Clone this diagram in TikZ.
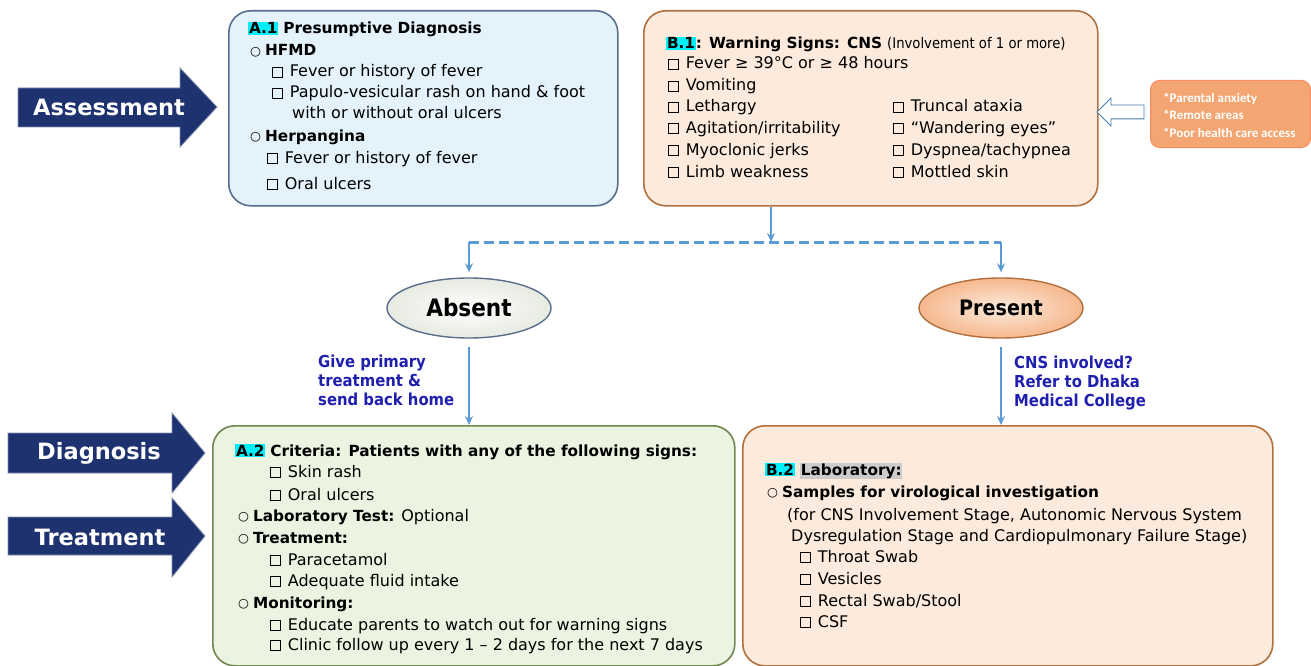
\documentclass[tikz,border=0pt]{standalone}
\usepackage{fontspec}
\setmainfont{DejaVu Sans}
\newfontfamily\narrowfont{DejaVu Sans Condensed}
\newfontfamily\notefont{Carlito}
\usetikzlibrary{arrows.meta,shapes.geometric,shapes.arrows,positioning}

\definecolor{navyarrow}{RGB}{29,50,110}
\definecolor{linkblue}{RGB}{91,155,213}
\definecolor{labelblue}{RGB}{32,32,175}
\definecolor{bluefill}{RGB}{228,242,251}
\definecolor{blueedge}{RGB}{88,110,140}
\definecolor{peachfill}{RGB}{252,235,220}
\definecolor{peachedge}{RGB}{178,112,62}
\definecolor{greenfill}{RGB}{235,244,224}
\definecolor{greenedge}{RGB}{112,135,82}
\definecolor{orangefill}{RGB}{243,166,114}
\definecolor{hlcyan}{RGB}{0,238,248}

\newcommand{\hl}[1]{{\setlength{\fboxsep}{0.8pt}\colorbox{hlcyan}{#1}}}
\newcommand{\hg}[1]{{\setlength{\fboxsep}{0.8pt}\colorbox{black!20}{#1}}}
\newcommand{\bt}[1]{{\fontsize{15.3}{18}\selectfont\bfseries #1}}
\newcommand{\cb}{{\setlength{\fboxsep}{0pt}\setlength{\fboxrule}{0.6pt}\fbox{\rule{0pt}{9.5pt}\rule{9.5pt}{0pt}}}\hspace{7pt}}
\newcommand{\rb}{\raisebox{0.5pt}{\fontsize{12.5}{12.5}\selectfont\bfseries ○}\hspace{4pt}}

\tikzset{
  panel/.style={draw, rounded corners=22pt, line width=1.6pt, anchor=north west, inner sep=0pt},
  txt/.style={anchor=base west, inner sep=0pt, font=\fontsize{16}{18}\selectfont},
  link/.style={draw=linkblue, line width=1.8pt, -{Stealth[length=9pt,width=8pt]}},
  bigarrow/.style={fill=navyarrow, draw=navyarrow!55!white, line width=0.8pt},
  armlabel/.style={text=white, font=\bfseries\fontsize{22.5}{22.5}\selectfont},
  branch/.style={text=labelblue, anchor=base west, inner sep=0pt, align=left,
    font=\narrowfont\bfseries\fontsize{16.5}{19}\selectfont},
}

\begin{document}
\begin{tikzpicture}[x=1pt,y=-1pt]
\useasboundingbox (0,0) rectangle (1311,666);

% side arrows
\fill[bigarrow] (18,88) -- (180,88) -- (180,68) -- (217,107) -- (180,147) -- (180,127) -- (18,127) -- cycle;
\node[armlabel] (assess) at (109,107) {Assessment};
\fill[bigarrow] (8,433) -- (172,433) -- (172,413) -- (205,453) -- (172,493) -- (172,473) -- (8,473) -- cycle;
\node[armlabel] (diag) at (99,453) {Diagnosis};
\fill[bigarrow] (8,517) -- (172,517) -- (172,498) -- (205,536) -- (172,577) -- (172,555) -- (8,555) -- cycle;
\node[armlabel] (treat) at (100,537) {Treatment};

% panels
\node[panel, draw=blueedge, fill=bluefill, minimum width=389pt, minimum height=195pt] (a1) at (228,10) {};
\node[panel, draw=peachedge, fill=peachfill, minimum width=454pt, minimum height=195pt] (b1) at (643,10) {};
\node[panel, draw=greenedge, fill=greenfill, minimum width=522pt, minimum height=240pt] (a2) at (212,425) {};
\node[panel, draw=peachedge, fill=peachfill, minimum width=530pt, minimum height=240pt] (b2) at (742,425) {};
\node[anchor=north west, fill=orangefill, draw=orangefill!85!red, rounded corners=9pt,
  minimum width=160pt, minimum height=67pt, line width=1pt] (risk) at (1150,80) {};

% panel text
\foreach \xx/\yy/\t [count=\i] in {
  248/34/{\hl{\bt{A.1}} \bt{Presumptive Diagnosis}},
  250/56/{\rb\bt{HFMD}},
  272/77/{\cb Fever or history of fever},
  272/98/{\cb Papulo-vesicular rash on hand \& foot},
  292/119/{with or without oral ulcers},
  250/141/{\rb\bt{Herpangina}},
  267/163/{\cb Fever or history of fever},
  267/189/{\cb Oral ulcers}}
  \node[txt] (a1-\i) at (\xx,\yy) {\t};

\foreach \xx/\yy/\t [count=\i] in {
  666/49/{\hl{\bt{B.1}}\bt{: Warning Signs: CNS} {\narrowfont\fontsize{14.7}{14.7}\selectfont(Involvement of 1 or more)}},
  668/69/{\cb Fever ≥ 39°C or ≥ 48 hours},
  668/91/{\cb Vomiting},
  668/112/{\cb Lethargy},
  668/133/{\cb Agitation/irritability},
  668/155/{\cb Myoclonic jerks},
  668/177/{\cb Limb weakness},
  893/112/{\cb Truncal ataxia},
  893/133/{\cb “Wandering eyes”},
  893/155/{\cb Dyspnea/tachypnea},
  893/177/{\cb Mottled skin}}
  \node[txt] (b1-\i) at (\xx,\yy) {\t};

\foreach \xx/\yy/\t [count=\i] in {
  235/456/{\hl{\bt{A.2}} \bt{Criteria: Patients with any of the following signs:}},
  270/477/{\cb Skin rash},
  270/500/{\cb Oral ulcers},
  238/521/{\rb\bt{Laboratory Test:} Optional},
  238/543/{\rb\bt{Treatment:}},
  270/565/{\cb Paracetamol},
  270/586/{\cb Adequate fluid intake},
  238/608/{\rb\bt{Monitoring:}},
  270/630/{\cb Educate parents to watch out for warning signs},
  270/650/{\cb Clinic follow up every 1 – 2 days for the next 7 days}}
  \node[txt] (a2-\i) at (\xx,\yy) {\t};

\foreach \xx/\yy/\t [count=\i] in {
  765/475/{\hl{\bt{B.2}} \hg{\bt{Laboratory:}}},
  767/497/{\rb\bt{Samples for virological investigation}},
  787/520/{(for CNS Involvement Stage, Autonomic Nervous System},
  791/541/{Dysregulation Stage and Cardiopulmonary Failure Stage)},
  800/562/{\cb Throat Swab},
  800/584/{\cb Vesicles},
  800/606/{\cb Rectal Swab/Stool},
  800/627/{\cb CSF}}
  \node[txt] (b2-\i) at (\xx,\yy) {\t};

\node[anchor=base west, inner sep=0pt, align=left, text=white,
  font=\notefont\bfseries\fontsize{13}{17.5}\selectfont] (risktxt) at (1163,137)
  {*Parental anxiety\\*Remote areas\\*Poor health care access};

% outcome ellipses
\node[ellipse, minimum width=164pt, minimum height=60pt, line width=1.4pt, draw=blueedge,
  inner color=white, outer color=greenfill!80!gray!60!white,
  font=\narrowfont\bfseries\fontsize{24}{24}\selectfont] (absent) at (469,308) {Absent};
\node[ellipse, minimum width=164pt, minimum height=60pt, line width=1.4pt, draw=peachedge,
  inner color=peachfill, outer color=orangefill!80!white,
  font=\narrowfont\bfseries\fontsize{21.3}{21.3}\selectfont] (present) at (1001,308) {Present};

% hollow arrow
\node[single arrow, shape border rotate=180, draw=linkblue!80!black, fill=white, line width=0.9pt,
  minimum height=47pt, minimum width=27pt, single arrow head extend=7pt, inner sep=6.5pt] (feed) at (1124,112) {};

% connectors
\coordinate (split) at (771,242);
\draw[link] (b1.south -| split) -- (split);
\draw[linkblue, line width=3pt, dash pattern=on 10pt off 5pt] (absent.north |- split) -- (present.north |- split);
\draw[link, shorten >=5pt] (absent.north |- split) -- (absent.north);
\draw[link, shorten >=5pt] (present.north |- split) -- (present.north);
\draw[link, shorten <=8pt] (absent.south) -- (absent.south |- a2.north);
\draw[link, shorten <=8pt] (present.south) -- (present.south |- b2.north);

\node[branch] (homelbl) at (318,405) {Give primary\\treatment \&\\send back home};
\node[branch] (referlbl) at (1014,406) {CNS involved?\\Refer to Dhaka\\Medical College};
\end{tikzpicture}
\end{document}
